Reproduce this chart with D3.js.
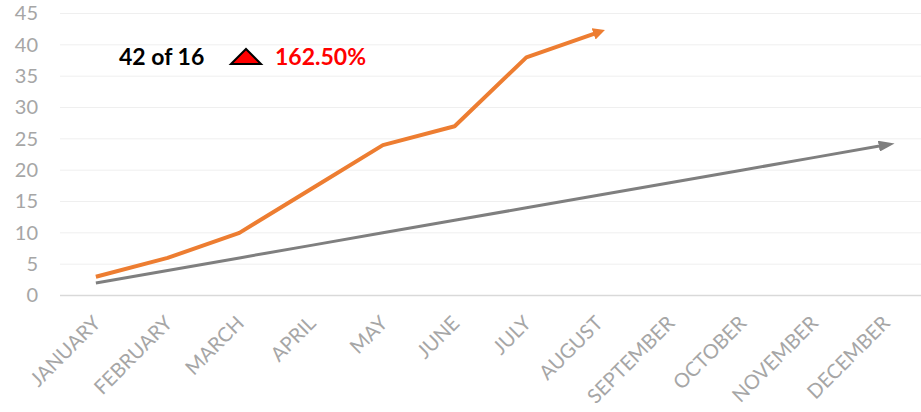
<!DOCTYPE html>
<html>
<head>
<meta charset="utf-8">
<script src="https://cdn.jsdelivr.net/npm/d3@7"></script>
<style>
  html, body { margin: 0; padding: 0; background: #fff; }
  svg { display: block; }
</style>
</head>
<body>
<svg id="chart" width="921" height="412"></svg>
<script>
// Months along the x axis
const months = ["JANUARY", "FEBRUARY", "MARCH", "APRIL", "MAY", "JUNE", "JULY",
  "AUGUST", "SEPTEMBER", "OCTOBER", "NOVEMBER", "DECEMBER"];
// Cumulative actuals (to date)
const actual = [3, 6, 10, 17, 24, 27, 38, 42];
// Cumulative target for the year
const target = [2, 4, 6, 8, 10, 12, 14, 16, 18, 20, 22, 24];
// Y axis ticks
const yTicks = [0, 5, 10, 15, 20, 25, 30, 35, 40, 45];

const FONT = "Lato, 'Open Sans', sans-serif";
const svg = d3.select("#chart");
const W = 921, H = 412;
const margin = { left: 60, right: 0, top: 13.5, bottom: 116.5 };

const x = d3.scaleBand().domain(months).range([margin.left, W - margin.right]);
const y = d3.scaleLinear().domain([0, 45]).range([H - margin.bottom, margin.top]);
const cx = m => x(m) + x.bandwidth() / 2;

// Arrowhead markers
const defs = svg.append("defs");
function marker(id, color, w, h) {
  defs.append("marker")
    .attr("id", id)
    .attr("viewBox", "0 0 10 10")
    .attr("refX", 4).attr("refY", 5)
    .attr("markerWidth", w).attr("markerHeight", h)
    .attr("markerUnits", "userSpaceOnUse")
    .attr("orient", "auto")
    .attr("preserveAspectRatio", "none")
    .append("path")
    .attr("d", "M0,0 L10,5 L0,10 Z")
    .attr("fill", color);
}
marker("arrow-orange", "#ED7D31", 12, 12);
marker("arrow-gray", "#7F7F7F", 16, 11);

// Gridlines
svg.append("g")
  .selectAll("line")
  .data(yTicks)
  .join("line")
  .attr("x1", margin.left).attr("x2", W)
  .attr("y1", d => y(d)).attr("y2", d => y(d))
  .attr("stroke", d => d === 0 ? "#d9d9d9" : "#efefef")
  .attr("stroke-width", d => d === 0 ? 1.5 : 1);

// Y axis labels
const yAxis = d3.axisLeft(y).tickValues(yTicks).tickSize(0).tickPadding(0);
const gy = svg.append("g").attr("transform", "translate(38,0)").call(yAxis);
gy.select(".domain").remove();
gy.selectAll("text")
  .attr("fill", "#a6a6a6")
  .style("font-family", FONT)
  .style("font-size", "20px");

// X axis labels, rotated
const xAxis = d3.axisBottom(x).tickSize(0).tickPadding(0);
const gx = svg.append("g").attr("transform", `translate(0,${y(0)})`).call(xAxis);
gx.select(".domain").remove();
gx.selectAll("text")
  .attr("fill", "#a6a6a6")
  .style("font-family", FONT)
  .style("font-size", "20px")
  .attr("text-anchor", "end")
  .attr("dy", null)
  .attr("transform", "translate(6,29) rotate(-45)");

// Lines
const line = d3.line().x((d, i) => cx(months[i])).y(d => y(d));

svg.append("path")
  .datum(target)
  .attr("d", line)
  .attr("fill", "none")
  .attr("stroke", "#7F7F7F")
  .attr("stroke-width", 3)
  .attr("marker-end", "url(#arrow-gray)");

svg.append("path")
  .datum(actual)
  .attr("d", line)
  .attr("fill", "none")
  .attr("stroke", "#ED7D31")
  .attr("stroke-width", 4)
  .attr("stroke-linejoin", "round")
  .attr("marker-end", "url(#arrow-orange)");

// Summary annotation: latest actual vs. target
const last = actual.length - 1;
const latest = actual[last], goal = target[last];
const pct = (latest - goal) / goal * 100;
const ann = svg.append("g").style("font-family", FONT)
  .style("font-weight", "bold").style("font-size", "23px");
ann.append("text").attr("x", 119).attr("y", 65).attr("fill", "#000")
  .text(`${latest} of ${goal}`);
ann.append("path")
  .attr("d", "M231,64 L246,49 L261,64 Z")
  .attr("fill", pct >= 0 ? "#FF0000" : "#00B050")
  .attr("stroke", "#000").attr("stroke-width", 2).attr("stroke-linejoin", "miter");
ann.append("text").attr("x", 275).attr("y", 65).attr("fill", "#FF0000")
  .text(`${pct.toFixed(2)}%`);
</script>
</body>
</html>
